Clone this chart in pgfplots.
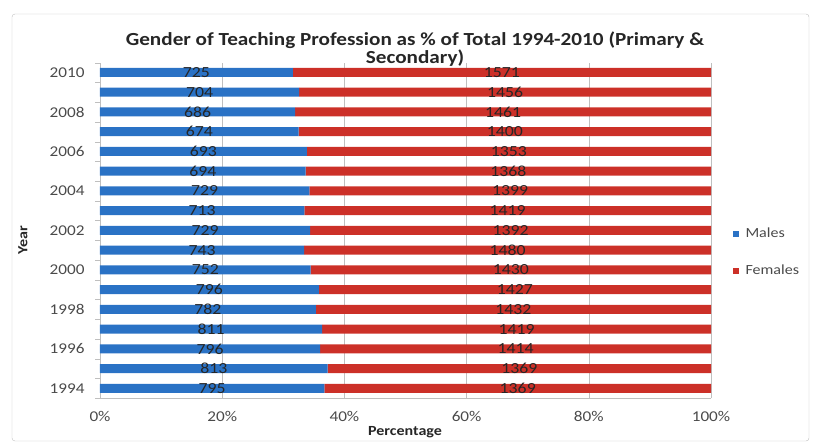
\documentclass[border=0pt]{standalone}
\usepackage{fontspec}
\setmainfont{Carlito}[FakeStretch=1.15]
\usepackage{pgfplots}
\usepackage{pgfplotstable}
\pgfplotsset{compat=1.18}
\definecolor{maleblue}{HTML}{2A72C5}
\definecolor{femred}{HTML}{CC3028}
\definecolor{gridgray}{HTML}{BFBFBF}
\definecolor{txtgray}{HTML}{4A4A4A}

% teachers by year: males, females
\pgfplotstableread{
year m f
1994 795 1369
1995 813 1369
1996 796 1414
1997 811 1419
1998 782 1432
1999 796 1427
2000 752 1430
2001 743 1480
2002 729 1392
2003 713 1419
2004 729 1399
2005 694 1368
2006 693 1353
2007 674 1400
2008 686 1461
2009 704 1456
2010 725 1571
}\teachers
\pgfplotstablecreatecol[expr={100*\thisrow{m}/(\thisrow{m}+\thisrow{f})}]{mp}{\teachers}
\pgfplotstablecreatecol[expr={100-\thisrow{mp}}]{fp}{\teachers}
\pgfplotstablecreatecol[expr={\thisrow{mp}/2}]{mmid}{\teachers}
\pgfplotstablecreatecol[expr={(\thisrow{mp}+100)/2}]{fmid}{\teachers}

\pgfplotsset{frame/.style={
  scale only axis, width=611bp, height=335.7bp,
  at={(100bp,-398.3bp)}, anchor=south west,
  xmin=0, xmax=100, ymin=1993.5, ymax=2010.5}}

\begin{document}
\begin{tikzpicture}
\path[use as bounding box] (0,0) rectangle (816bp,-443bp);
\draw[gridgray, rounded corners=3bp] (12bp,-14bp) rectangle (809bp,-441bp);

\begin{axis}[frame,
  xbar stacked, bar width=9bp,
  axis x line*=bottom, axis y line*=left,
  axis line style={gridgray},
  xmajorgrids, grid style={gridgray},
  xtick={0,20,...,100},
  xticklabel={\pgfmathprintnumber{\tick}\%},
  ytick={1994,1996,...,2010},
  minor ytick={1993.5,1994.5,...,2010.5},
  major tick length=0pt, minor tick length=5bp, tick align=outside,
  minor tick style={gridgray},
  yticklabel style={/pgf/number format/1000 sep={}, xshift=-12bp},
  xticklabel style={yshift=-9bp},
  /pgf/number format/assume math mode=true,
  tick label style={font=\fontsize{15}{17}\selectfont, text=txtgray},
  legend style={at={(1.03,0.52)}, anchor=north west, draw=none, fill=none,
    font=\fontsize{14}{16}\selectfont, text=txtgray, row sep=22bp, column sep=5bp},
  legend cell align=left,
  every axis plot post/.append style={legend image code/.code={\fill[##1,draw=none] (0bp,-3bp) rectangle (6bp,3bp);}},
]
\addplot[fill=maleblue, draw=none] table[x=mp, y=year]{\teachers};
\addplot[fill=femred, draw=none] table[x=fp, y=year]{\teachers};
\legend{Males,Females}
\end{axis}

\begin{axis}[frame, hide axis,
  nodes near coords, point meta=explicit symbolic,
  every node near coord/.append style={anchor=center, font=\fontsize{15.5}{17}\selectfont, text=black!85}]
\addplot[draw=none] table[x=mmid, y=year, meta=m]{\teachers};
\addplot[draw=none] table[x=fmid, y=year, meta=f]{\teachers};
\end{axis}

\node[align=center, font=\bfseries\fontsize{18.5}{18.5}\selectfont, text=black!85]
  at (415bp,-49bp) {Gender of Teaching Profession as \% of Total 1994-2010 (Primary \&\\Secondary)};
\node[rotate=90, font=\bfseries\fontsize{14}{16}\selectfont, text=black!85] at (23bp,-240bp) {Year};
\node[font=\bfseries\fontsize{14}{16}\selectfont, text=black!85] at (405bp,-432bp) {Percentage};
\end{tikzpicture}
\end{document}
